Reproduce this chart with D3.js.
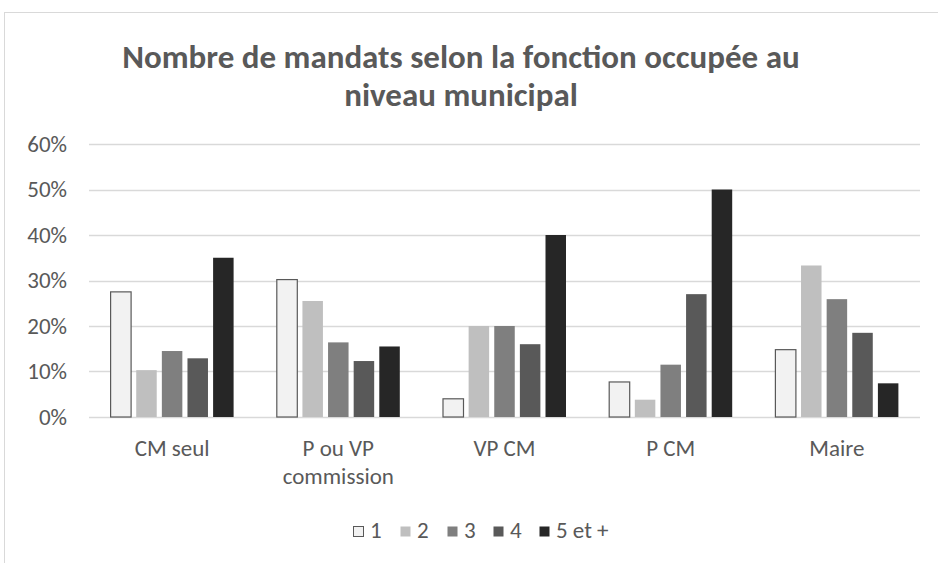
<!DOCTYPE html>
<html>
<head>
<meta charset="utf-8">
<script src="https://cdn.jsdelivr.net/npm/d3@7"></script>
<style>
  body { margin: 0; background: #fff; }
  text { font-family: Carlito, Calibri, Lato, sans-serif; fill: #595959; }
</style>
</head>
<body>
<script>
// data
const categories = ['CM seul', 'P ou VP\ncommission', 'VP CM', 'P CM', 'Maire'];
const seriesNames = ['1', '2', '3', '4', '5 et +'];
const s1 = [0.275, 0.302, 0.04, 0.077, 0.148];
const s2 = [0.103, 0.255, 0.20, 0.038, 0.333];
const s3 = [0.145, 0.164, 0.20, 0.115, 0.259];
const s4 = [0.129, 0.123, 0.16, 0.27, 0.185];
const s5 = [0.35, 0.155, 0.40, 0.50, 0.074];
const yTicks = [0, 0.1, 0.2, 0.3, 0.4, 0.5, 0.6];
const colors = ['#f2f2f2', '#bfbfbf', '#7f7f7f', '#595959', '#262626'];

const series = [s1, s2, s3, s4, s5];

const W = 938, H = 563;
const svg = d3.select('body').append('svg')
  .attr('width', W).attr('height', H);

// chart frame (runs past the window edge)
svg.append('rect')
  .attr('x', 4.5).attr('y', 12.5)
  .attr('width', 1000).attr('height', 1000)
  .attr('fill', 'none').attr('stroke', '#d9d9d9');

// title
const title = svg.append('text')
  .attr('text-anchor', 'middle')
  .style('font-size', '33px').style('font-weight', 'bold');
title.append('tspan').attr('x', 461).attr('y', 68).text('Nombre de mandats selon la fonction occupée au');
title.append('tspan').attr('x', 461).attr('y', 106).text('niveau municipal');

const y = d3.scaleLinear().domain([0, 0.6]).range([417, 144]);
const x0 = d3.scaleBand().domain(categories).range([89, 920]).padding(0);
const x1 = d3.scaleBand().domain(seriesNames).range([0, 123]).paddingInner(0.2);

// grid
svg.append('g').selectAll('line').data(yTicks).join('line')
  .attr('x1', 89).attr('x2', 920)
  .attr('y1', d => Math.round(y(d)) + 0.5).attr('y2', d => Math.round(y(d)) + 0.5)
  .attr('stroke', '#d9d9d9').attr('stroke-width', 1.5);

// y axis labels
const yAxis = svg.append('g').attr('transform', 'translate(89,0)')
  .call(d3.axisLeft(y).tickValues(yTicks).tickFormat(d3.format('.0%')).tickSize(0).tickPadding(22));
yAxis.select('.domain').remove();
yAxis.selectAll('text').style('font-size', '23px').style('font-family', null).attr('fill', null);

// bars
const groups = svg.append('g').selectAll('g').data(categories).join('g')
  .attr('transform', c => `translate(${x0(c) + x0.bandwidth() / 2 - 61.5},0)`);

groups.selectAll('rect')
  .data((c, ci) => series.map((s, si) => ({ name: seriesNames[si], v: s[ci], si })))
  .join('rect')
  .attr('x', d => x1(d.name))
  .attr('width', x1.bandwidth())
  .attr('y', d => y(d.v))
  .attr('height', d => y(0) - y(d.v))
  .attr('fill', d => colors[d.si])
  .attr('stroke', d => d.si === 0 ? '#595959' : 'none')
  .attr('stroke-width', 1.2);

// x labels
const xl = svg.append('g').selectAll('text').data(categories).join('text')
  .attr('text-anchor', 'middle')
  .style('font-size', '23px');
xl.each(function (c) {
  const t = d3.select(this);
  c.split('\n').forEach((line, i) => {
    t.append('tspan').attr('x', x0(c) + x0.bandwidth() / 2).attr('y', 456 + i * 28).text(line);
  });
});

// legend
const legendX = [353, 400, 447, 493, 539];
const lg = svg.append('g').selectAll('g').data(seriesNames).join('g')
  .attr('transform', (d, i) => `translate(${legendX[i]},0)`);
lg.append('rect')
  .attr('x', 0.5).attr('y', 526.5).attr('width', 10).attr('height', 10)
  .attr('fill', (d, i) => colors[i])
  .attr('stroke', (d, i) => i === 0 ? '#595959' : 'none');
lg.append('text')
  .attr('x', 17).attr('y', 538)
  .style('font-size', '23px')
  .text(d => d);
</script>
</body>
</html>
